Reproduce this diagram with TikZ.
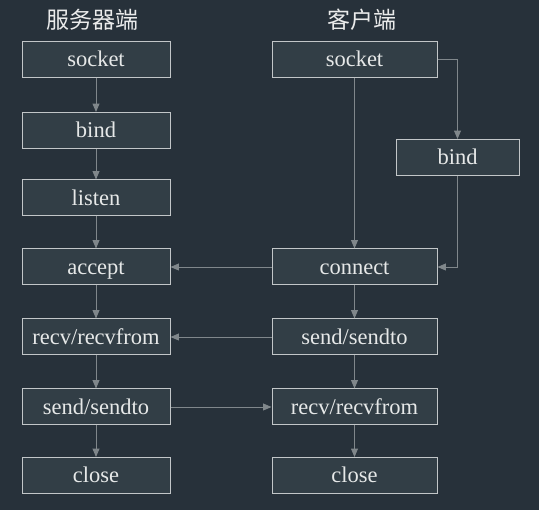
\documentclass[tikz,border=0pt]{standalone}
\usepackage{fontspec}
\setmainfont{Liberation Serif}
\newfontfamily\cjk{Noto Sans CJK SC}
\usepackage{tikz}
\usetikzlibrary{calc, shapes, arrows}
\definecolor{bg}{HTML}{27313A}
\definecolor{boxfill}{HTML}{323E46}
\definecolor{boxline}{HTML}{C2C6C8}
\definecolor{arrowgray}{HTML}{80878B}
\definecolor{txt}{HTML}{E6E8E8}
\begin{document}
\begin{tikzpicture}[x=1pt,y=-1pt]
\tikzstyle{srv}=[rectangle,draw=boxline,fill=boxfill,line width=1pt,minimum width=148pt,minimum height=36pt,inner sep=0pt,text height=17pt,text depth=2pt,text=txt,font=\fontsize{22.5}{26}\selectfont]
\tikzstyle{cli}=[srv,minimum width=165pt]
\tikzstyle{cbind}=[srv,minimum width=123pt]
\tikzstyle{title}=[text=txt!85,font=\cjk\fontsize{23}{26}\selectfont]
\tikzstyle{link}=[draw=arrowgray,line width=0.9pt,-triangle 45]
\fill[bg] (0,0) rectangle (539,510);
\useasboundingbox (0,0) rectangle (539,510);
\node[title] (T_s) at (92,20) {服务器端};
\node[title] (T_c) at (362,20) {客户端};
\node[srv] (S_0) at (96,59.5) {socket};
\node[srv] (S_1) at (96,130.5) {bind};
\node[srv] (S_2) at (96,198) {listen};
\node[srv] (S_3) at (96,267) {accept};
\node[srv] (S_4) at (96,337) {recv/recvfrom};
\node[srv] (S_5) at (96,407) {send/sendto};
\node[srv] (S_6) at (96,475.5) {close};
\node[cli] (C_0) at (354.5,59.5) {socket};
\node[cbind] (C_1) at (457.5,157.5) {bind};
\node[cli] (C_2) at (354.5,267) {connect};
\node[cli] (C_3) at (354.5,337) {send/sendto};
\node[cli] (C_4) at (354.5,407) {recv/recvfrom};
\node[cli] (C_5) at (354.5,475.5) {close};
\draw[link] (S_0) -- (S_1);
\draw[link] (S_1) -- (S_2);
\draw[link] (S_2) -- (S_3);
\draw[link] (S_3) -- (S_4);
\draw[link] (S_4) -- (S_5);
\draw[link] (S_5) -- (S_6);
\draw[link] (C_0) -- (C_2);
\draw[link] (C_0.east) -| (C_1.north);
\draw[link] (C_1.south) |- (C_2.east);
\draw[link] (C_2) -- (C_3);
\draw[link] (C_3) -- (C_4);
\draw[link] (C_4) -- (C_5);
\draw[link] (C_2) -- (S_3);
\draw[link] (C_3) -- (S_4);
\draw[link] (S_5) -- (C_4);
\end{tikzpicture}
\end{document}
